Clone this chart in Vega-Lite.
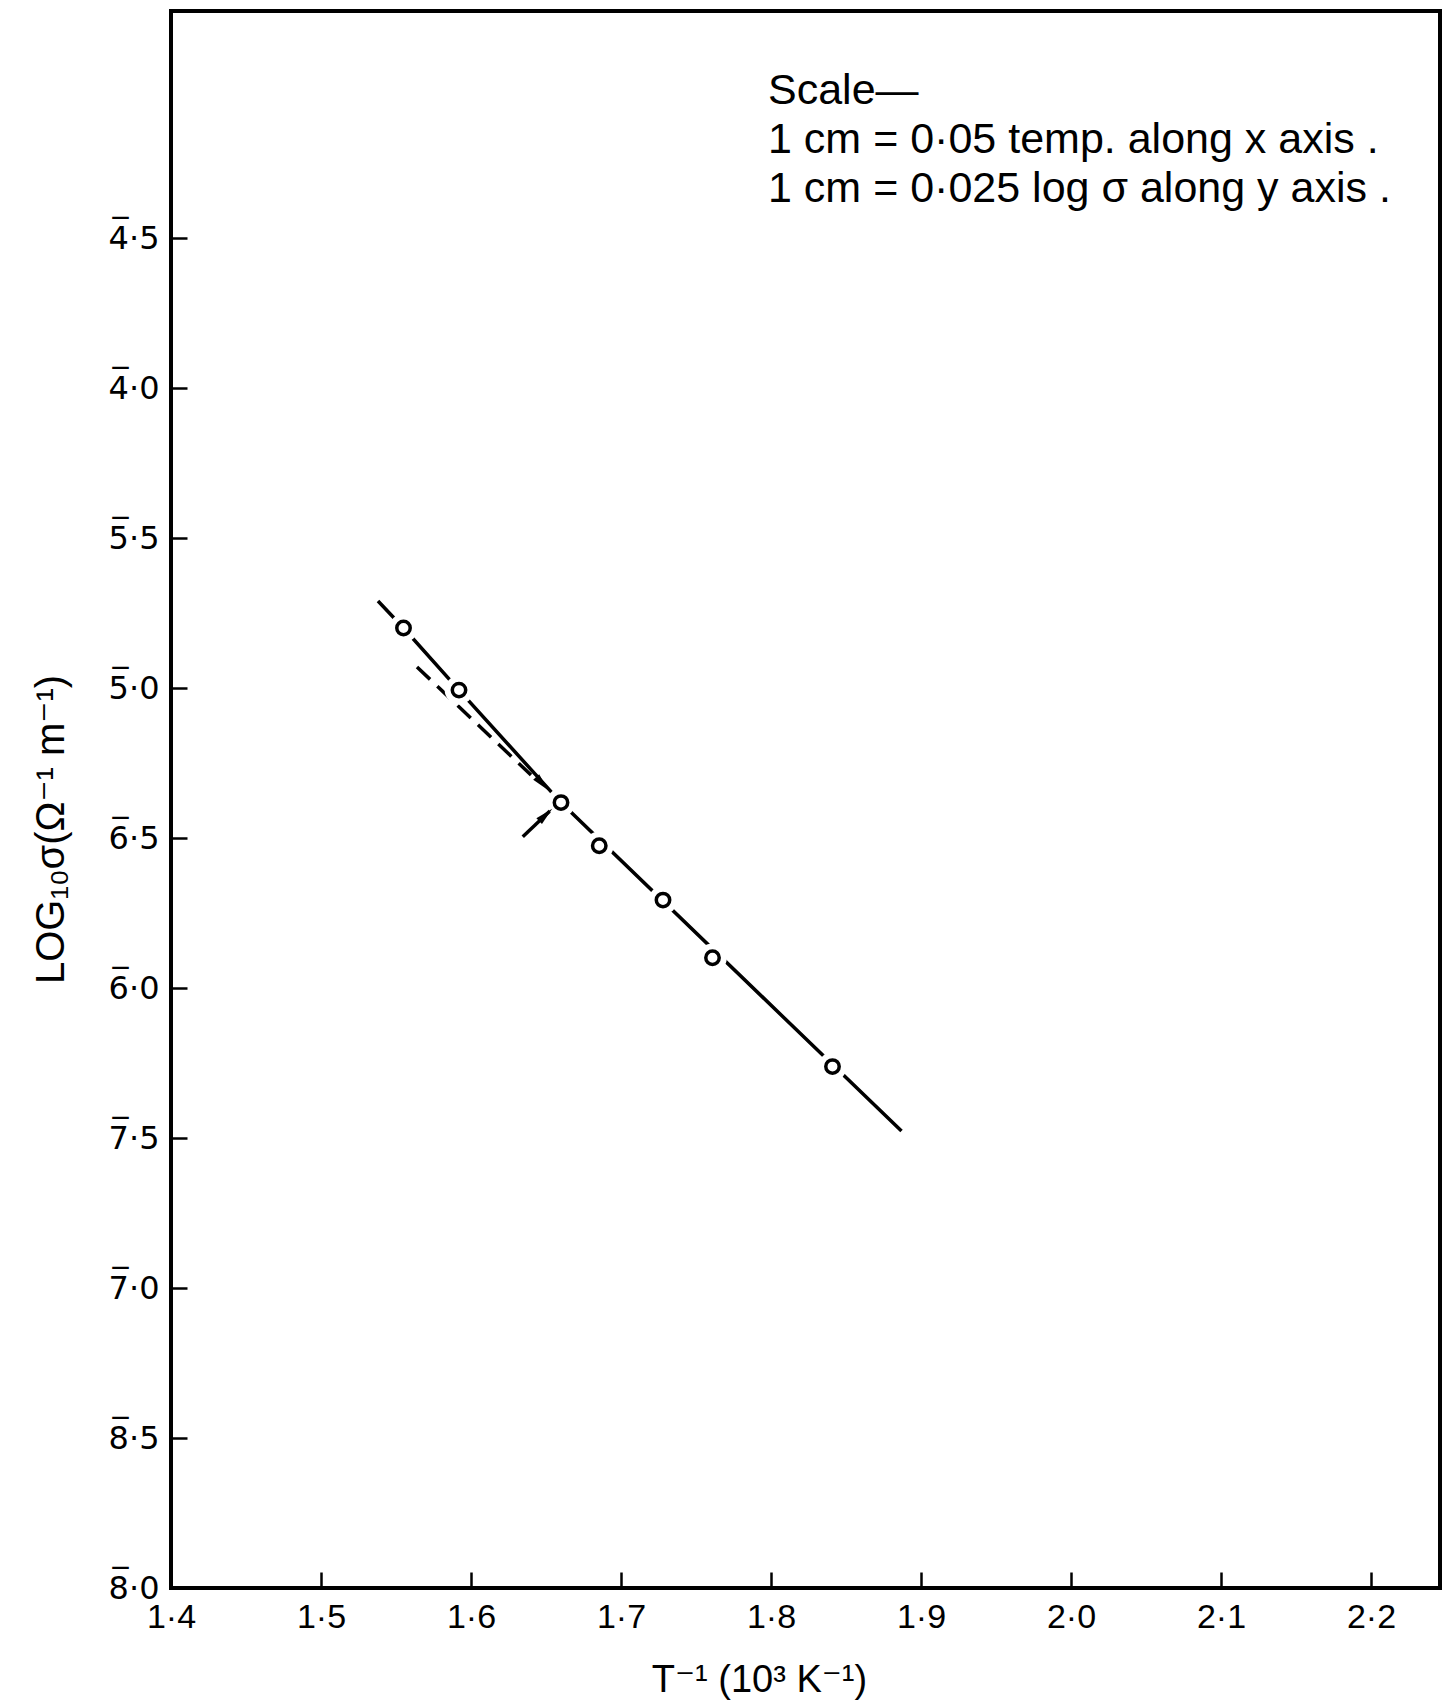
{
  "$schema": "https://vega.github.io/schema/vega-lite/v6.json",
  "width": 1269,
  "height": 1577,
  "autosize": {"type": "none"},
  "padding": {"left": 171, "top": 11, "right": 5, "bottom": 119},
  "background": "white",
  "title": {
    "text": ["Scale—", "1 cm = 0·05  temp. along x axis .", "1 cm = 0·025 log σ along y axis ."],
    "orient": "top",
    "anchor": "start",
    "frame": "group",
    "align": "left",
    "baseline": "top",
    "offset": 0,
    "dx": 597,
    "dy": 200,
    "lineHeight": 49,
    "font": "Liberation Sans, DejaVu Sans, sans-serif",
    "fontSize": 43,
    "fontWeight": "normal",
    "color": "black"
  },
  "datasets": {
    "measured": [
      {"inv_T": 1.555, "log_sigma": -4.80},
      {"inv_T": 1.592, "log_sigma": -5.007},
      {"inv_T": 1.660, "log_sigma": -5.382},
      {"inv_T": 1.6855, "log_sigma": -5.526},
      {"inv_T": 1.728, "log_sigma": -5.707},
      {"inv_T": 1.761, "log_sigma": -5.899},
      {"inv_T": 1.841, "log_sigma": -6.262}
    ],
    "fit": [
      {"inv_T": 1.538, "log_sigma": -4.71},
      {"inv_T": 1.555, "log_sigma": -4.80},
      {"inv_T": 1.592, "log_sigma": -5.007},
      {"inv_T": 1.660, "log_sigma": -5.382},
      {"inv_T": 1.887, "log_sigma": -6.477}
    ],
    "extrapolation": [
      {"inv_T": 1.564, "log_sigma": -4.93},
      {"inv_T": 1.640, "log_sigma": -5.29}
    ],
    "pointer": [
      {"inv_T": 1.6345, "log_sigma": -5.496},
      {"inv_T": 1.6547, "log_sigma": -5.40}
    ],
    "heads": [
      {"arrow": "fit", "inv_T": 1.6475, "log_sigma": -5.319},
      {"arrow": "pointer", "inv_T": 1.6498, "log_sigma": -5.423}
    ]
  },
  "encoding": {
    "x": {
      "field": "inv_T",
      "type": "quantitative",
      "scale": {"domain": [1.4, 2.246], "nice": false, "zero": false},
      "axis": {
        "values": [1.4, 1.5, 1.6, 1.7, 1.8, 1.9, 2.0, 2.1, 2.2],
        "labelExpr": "replace(format(datum.value, '.1f'), '.', '·')",
        "title": "T⁻¹ (10³ K⁻¹)",
        "titleX": 588,
        "titleY": 92,
        "titleFontSize": 38,
        "titleAlign": "center",
        "titleBaseline": "middle"
      }
    },
    "y": {
      "field": "log_sigma",
      "type": "quantitative",
      "scale": {"domain": [-8, -2.7433], "nice": false, "zero": false},
      "axis": {
        "values": [-8, -7.5, -7, -6.5, -6, -5.5, -5, -4.5, -4, -3.5],
        "labelExpr": "(-floor(datum.value)) + '·' + round((datum.value - floor(datum.value)) * 10)",
        "labelFont": "DejaVu Sans",
        "labelFontSize": 32,
        "title": "LOG₁₀σ(Ω⁻¹ m⁻¹)",
        "titleX": -120,
        "titleY": 818,
        "titleAngle": -90,
        "titleFontSize": 40,
        "titleAlign": "center",
        "titleBaseline": "middle"
      }
    }
  },
  "layer": [
    {
      "layer": [
        {
          "data": {"name": "extrapolation"},
          "mark": {"type": "line", "color": "black", "strokeWidth": 3.5, "strokeDash": [18, 10]}
        },
        {
          "data": {"name": "fit"},
          "mark": {"type": "line", "color": "black", "strokeWidth": 3.5}
        },
        {
          "data": {"name": "pointer"},
          "mark": {"type": "line", "color": "black", "strokeWidth": 3.5}
        },
        {
          "data": {"name": "measured"},
          "mark": {"type": "point", "shape": "circle", "filled": true, "color": "white", "opacity": 1, "size": 820}
        },
        {
          "data": {"name": "measured"},
          "mark": {"type": "point", "shape": "circle", "filled": false, "color": "black", "strokeWidth": 3.5, "opacity": 1, "size": 180}
        },
        {
          "data": {"name": "heads"},
          "transform": [{"filter": "datum.arrow === 'fit'"}],
          "mark": {"type": "point", "shape": "M0,-1L0.45,1L-0.45,1Z", "filled": true, "color": "black", "opacity": 1, "size": 324, "angle": 137.6}
        },
        {
          "data": {"name": "heads"},
          "transform": [{"filter": "datum.arrow === 'pointer'"}],
          "mark": {"type": "point", "shape": "M0,-1L0.45,1L-0.45,1Z", "filled": true, "color": "black", "opacity": 1, "size": 324, "angle": 46.5}
        }
      ]
    },
    {
      "data": {"name": "measured"},
      "mark": {"type": "point", "opacity": 0},
      "encoding": {
        "y": {
          "field": "log_sigma",
          "type": "quantitative",
          "scale": {"domain": [-8, -2.7433], "nice": false, "zero": false},
          "axis": {
            "orient": "left",
            "values": [-8, -7.5, -7, -6.5, -6, -5.5, -5, -4.5, -4, -3.5],
            "labelExpr": "'‾'",
            "labelFont": "DejaVu Sans",
            "labelFontSize": 32,
            "labelPadding": 43,
            "labelOffset": -8,
            "ticks": false,
            "domain": false,
            "title": null
          }
        }
      }
    }
  ],
  "resolve": {"axis": {"y": "independent"}},
  "config": {
    "view": {"stroke": "black", "strokeWidth": 4},
    "axis": {
      "grid": false,
      "domain": false,
      "ticks": true,
      "tickColor": "black",
      "tickWidth": 2.5,
      "tickSize": -16,
      "labelPadding": 28,
      "labelFont": "Liberation Sans, DejaVu Sans, sans-serif",
      "labelFontSize": 34,
      "labelColor": "black",
      "labelOverlap": false,
      "labelFlush": false,
      "titleFont": "Liberation Sans, DejaVu Sans, sans-serif",
      "titleFontSize": 35,
      "titleFontWeight": "normal",
      "titleColor": "black"
    }
  }
}
